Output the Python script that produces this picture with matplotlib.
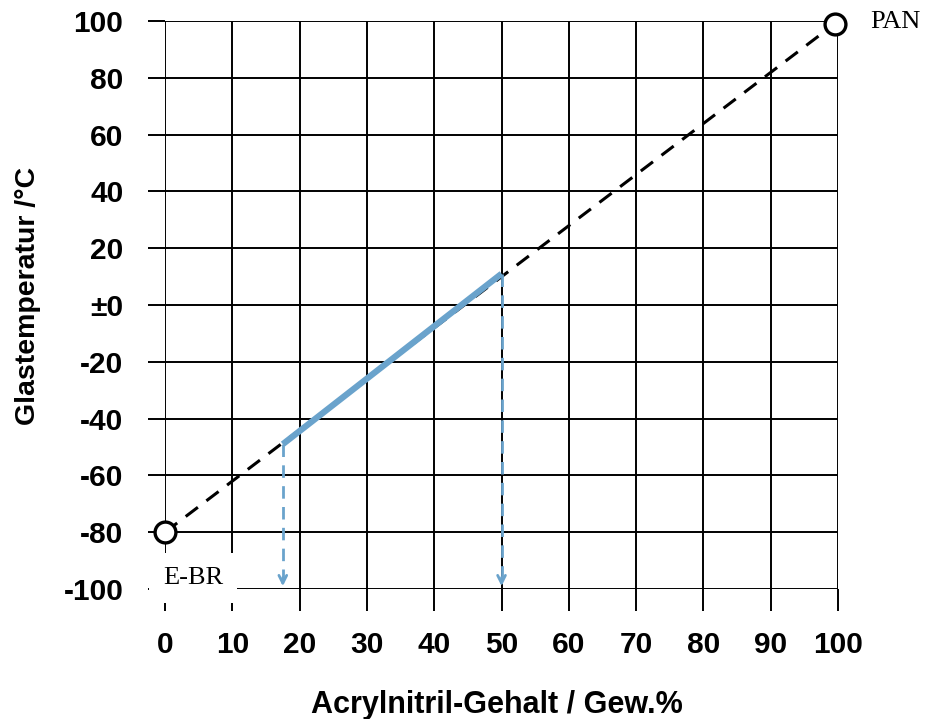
import numpy as np
import matplotlib.pyplot as plt

# data
x_ticks = [0, 10, 20, 30, 40, 50, 60, 70, 80, 90, 100]
y_ticks = [-100, -80, -60, -40, -20, 0, 20, 40, 60, 80, 100]
y_labels = ['-100', '-80', '-60', '-40', '-20', '\u00b10', '20', '40', '60', '80', '100']

end_x = [0, 99.5]        # E-BR, PAN
end_y = [-80, 99]
end_names = ['E-BR', 'PAN']

range_x = [17.5, 50]     # technically used range
range_y = [-49, 11]

blue = '#6aa3cc'
sans = ['Liberation Sans', 'DejaVu Sans']
serif = ['Liberation Serif', 'DejaVu Serif']

fig = plt.figure(figsize=(9.25, 7.19), dpi=100)
ax = fig.add_axes([0.1784, 0.1808, 0.7276, 0.79])
ax.set_xlim(0, 100)
ax.set_ylim(-100, 100)

for s in ax.spines.values():
    s.set_visible(False)
ax.set_xticks(x_ticks)
ax.set_yticks(y_ticks)
ax.set_yticklabels(y_labels)
ax.grid(True, color='black', lw=1.4, zorder=0)
ax.tick_params(axis='y', length=12, width=1.4, pad=18, labelsize=21.5)
ax.tick_params(axis='x', length=16, width=1.4, pad=14, labelsize=21.5)
for lab in ax.get_xticklabels() + ax.get_yticklabels():
    lab.set_family(sans)
    lab.set_fontweight('bold')

# dashed line between pure components
ax.plot(end_x, end_y, color='black', lw=2.2, ls=(0, (5, 3.5)), zorder=2, clip_on=False)
# used range
ax.plot(range_x, range_y, color=blue, lw=4.5, solid_capstyle='butt', zorder=3)
for x0, y0 in zip(range_x, range_y):
    ax.plot([x0, x0], [y0, -97], color=blue, lw=2, ls=(0, (4.5, 3)), zorder=3)
    ax.annotate('', xy=(x0, -100), xytext=(x0, -95),
                arrowprops=dict(arrowstyle='->', color=blue, lw=2, mutation_scale=14),
                zorder=3)

ax.plot(end_x, end_y, 'o', ms=15, mfc='white', mec='black', mew=2.4, zorder=5, clip_on=False)

ax.text(end_x[0] + 4.2, -98.3, end_names[0], family=serif, fontsize=19,
        ha='center', va='baseline', zorder=4, clip_on=False,
        bbox=dict(facecolor='white', edgecolor='none', pad=10))
ax.text(end_x[1] + 5.3, 97.5, end_names[1], family=serif, fontsize=19,
        ha='left', va='baseline', clip_on=False)

fig.text(0.030, 0.588, 'Glastemperatur /\u00b0C', rotation=90, ha='center', va='center',
         family=sans, fontweight='bold', fontsize=20.5)
fig.text(0.537, 0.0083, 'Acrylnitril-Gehalt / Gew.%', ha='center', va='baseline',
         family=sans, fontweight='bold', fontsize=22)

fig.savefig('out.png', dpi=100)
